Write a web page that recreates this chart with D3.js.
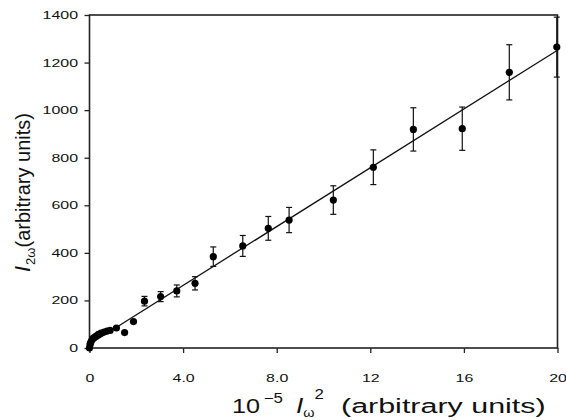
<!DOCTYPE html>
<html>
<head>
<meta charset="utf-8">
<script src="https://cdn.jsdelivr.net/npm/d3@7"></script>
<style>
  body { margin: 0; background: #fff; }
  svg { font-family: "Liberation Sans", Arial, sans-serif; }
</style>
</head>
<body>
<svg></svg>
<script>
// 10^-5 I_w^2 (x), I_2w (y) and error bar half-widths
const intensitySq = [0, 0.02, 0.04, 0.08, 0.13, 0.19, 0.28, 0.38, 0.49, 0.62, 0.75, 0.88, 1.15, 1.5, 1.88,
	2.35, 3.04, 3.73, 4.51, 5.29, 6.55, 7.64, 8.53, 10.42, 12.13, 13.84, 15.93, 17.94, 19.97];
const shg = [0, 13, 21, 29, 38, 44, 50, 57, 63, 67, 71, 74, 84, 65, 111,
	197, 216, 240, 272, 384, 429, 503, 538, 622, 760, 919, 922, 1159, 1265];
const errs = [0, 0, 0, 0, 0, 0, 0, 0, 0, 0, 0, 0, 0, 0, 0,
	20, 21, 25, 28, 41, 44, 50, 53, 60, 73, 91, 91, 116, 126];

const xTicks = [0, 4, 8, 12, 16, 20];
const xTickLabels = ["0", "4.0", "8.0", "12", "16", "20"];
const yTicks = [0, 200, 400, 600, 800, 1000, 1200, 1400];

// linear fit drawn over the data
const fitIntercept = 16;
const fitSlope = 61.8;

const data = intensitySq.map((x, i) => ({ x: x, y: shg[i], e: errs[i] }));

const svg = d3.select("svg");
svg.attr("width", 566).attr("height", 420);

const x = d3.scaleLinear().domain([0, 20]).range([89.5, 557.5]);
const y = d3.scaleLinear().domain([0, 1400]).range([348, 15]);

// frame
svg
	.append("rect")
	.attr("x", x(0))
	.attr("y", y(1400))
	.attr("width", x(20) - x(0))
	.attr("height", y(0) - y(1400))
	.attr("fill", "none")
	.attr("stroke", "#222")
	.attr("stroke-width", 1.6);

const xAxis = svg
	.append("g")
	.attr("transform", `translate(0, ${y(0)})`)
	.call(
		d3
			.axisBottom(x)
			.tickValues(xTicks)
			.tickFormat((d, i) => xTickLabels[i])
			.tickSize(5)
			.tickSizeOuter(0)
			.tickPadding(21)
	);

const yAxis = svg
	.append("g")
	.attr("transform", `translate(${x(0)}, 0)`)
	.call(d3.axisLeft(y).tickValues(yTicks).tickFormat(d3.format("d")).tickSize(5).tickSizeOuter(0));

[xAxis, yAxis].forEach((g) => {
	g.select(".domain").remove();
	g.selectAll("line").attr("stroke", "#222").attr("stroke-width", 1.3);
	g.selectAll("text")
		.attr("fill", "#111")
		.attr("font-size", 11)
		.attr("font-family", "Liberation Sans, Arial, sans-serif");
});

xAxis.selectAll("text").attr("transform", "scale(1.45,1)");
yAxis.selectAll("text").attr("x", -11.5 / 1.45).attr("transform", "scale(1.45,1)");

// fit line
svg
	.append("line")
	.attr("x1", x(0))
	.attr("y1", y(fitIntercept))
	.attr("x2", x(20))
	.attr("y2", y(fitIntercept + fitSlope * 20))
	.attr("stroke", "#111")
	.attr("stroke-width", 1.3);

// error bars
const bars = svg
	.selectAll("g.err")
	.data(data.filter((d) => d.e > 0))
	.enter()
	.append("g")
	.attr("class", "err")
	.attr("stroke", "#111")
	.attr("stroke-width", 1.2);

bars
	.append("line")
	.attr("x1", (d) => x(d.x))
	.attr("x2", (d) => x(d.x))
	.attr("y1", (d) => y(d.y - d.e))
	.attr("y2", (d) => y(Math.min(d.y + d.e, 1400)));

bars
	.append("line")
	.attr("x1", (d) => x(d.x) - 3)
	.attr("x2", (d) => x(d.x) + 3)
	.attr("y1", (d) => y(d.y - d.e))
	.attr("y2", (d) => y(d.y - d.e));

bars
	.append("line")
	.attr("x1", (d) => x(d.x) - 3)
	.attr("x2", (d) => x(d.x) + 3)
	.attr("y1", (d) => y(Math.min(d.y + d.e, 1400)))
	.attr("y2", (d) => y(Math.min(d.y + d.e, 1400)));

svg
	.selectAll("circle.pt")
	.data(data)
	.enter()
	.append("circle")
	.attr("class", "pt")
	.attr("cx", (d) => x(d.x))
	.attr("cy", (d) => y(d.y))
	.attr("r", 3.6)
	.attr("fill", "#000");

// y label
const yLabel = svg
	.append("text")
	.attr("transform", "translate(30, 272) rotate(-90)")
	.attr("font-size", 20)
	.attr("fill", "#111");
yLabel.append("tspan").attr("font-style", "italic").attr("font-size", 22).text("I");
yLabel.append("tspan").attr("font-size", 13).attr("dy", 5).attr("dx", 1).text("2ω");
yLabel.append("tspan").attr("dy", -5).text("(arbitrary units)");

// x label: symbol part, then the units part
const xLabel = svg
	.append("text")
	.attr("transform", "translate(232, 413) scale(1.2,1)")
	.attr("font-size", 21)
	.attr("fill", "#111");
xLabel.append("tspan").text("10");
xLabel.append("tspan").attr("font-size", 14).attr("dy", -10).attr("dx", 3).text("−5");
xLabel.append("tspan").attr("font-style", "italic").attr("font-size", 22).attr("dy", 10).attr("dx", 11).text("I");
xLabel.append("tspan").attr("font-size", 12).attr("dy", 4).text("ω");
xLabel.append("tspan").attr("font-size", 14).attr("dy", -18).attr("dx", 0).text("2");

svg
	.append("text")
	.attr("transform", "translate(341, 413) scale(1.45,1)")
	.attr("font-size", 21)
	.attr("fill", "#111")
	.text("(arbitrary units)");
</script>
</body>
</html>
